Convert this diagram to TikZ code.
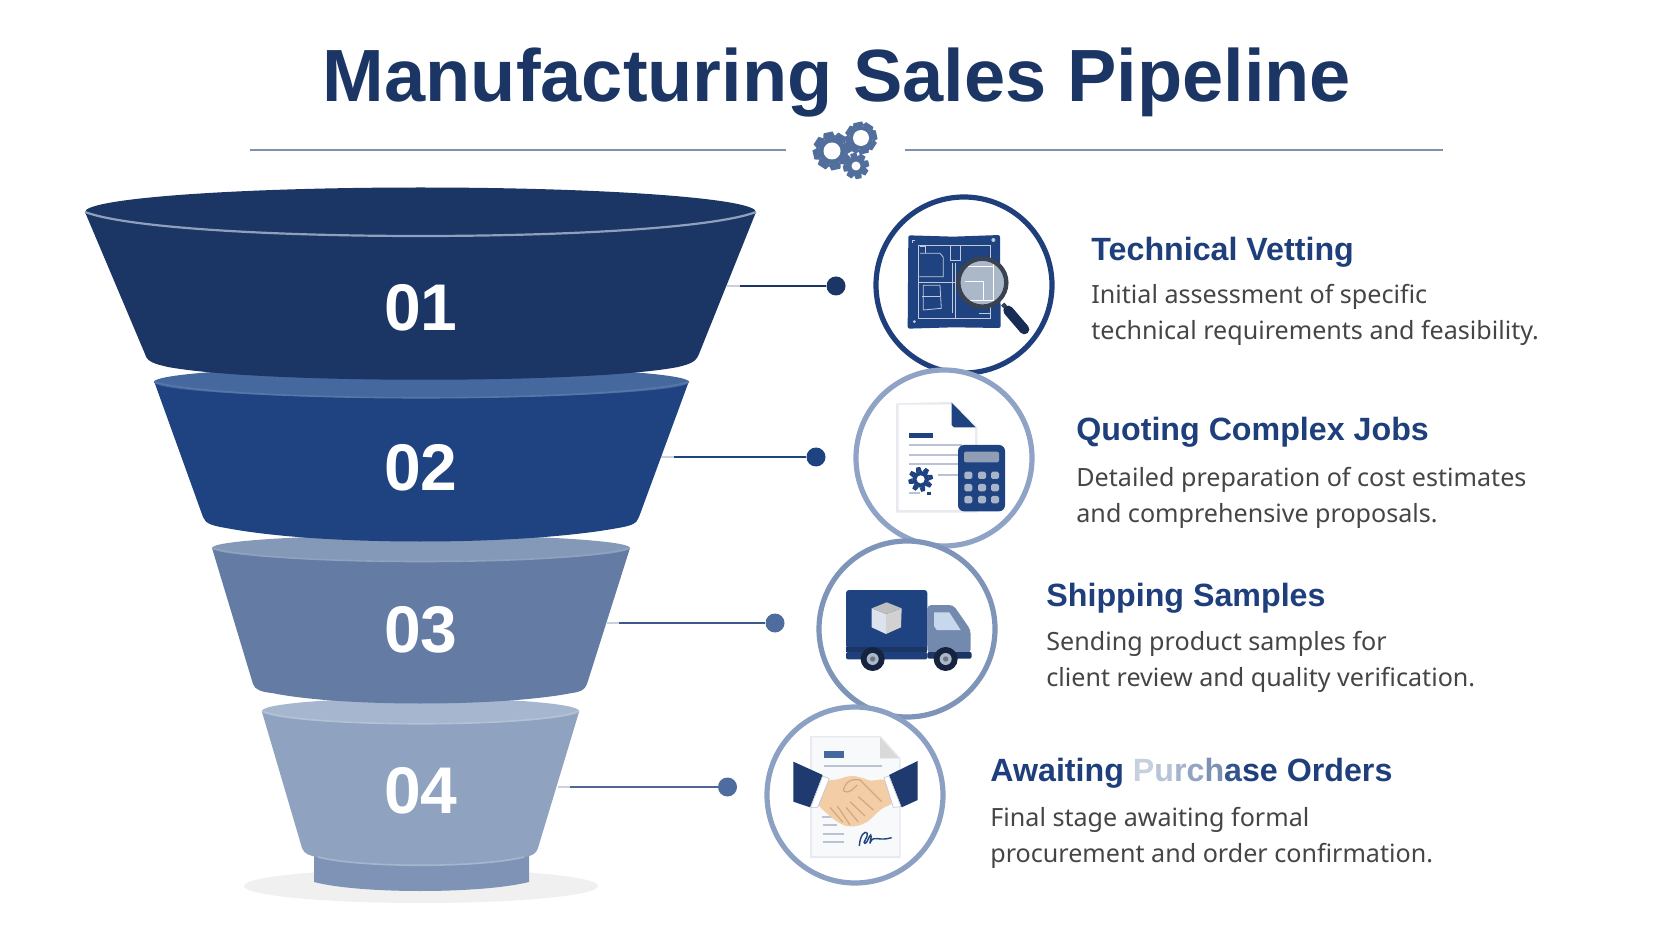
\documentclass[tikz,border=0pt]{standalone}
\usepackage{fontspec}
\setmainfont{Noto Sans}
\newfontfamily\strongface{Liberation Sans}
\definecolor{navy}{HTML}{1B3564}
\definecolor{royal}{HTML}{1F4280}
\definecolor{headc}{HTML}{1F3F7C}
\definecolor{bodyc}{HTML}{454545}
\definecolor{ruleline}{HTML}{7E90AE}
\definecolor{gearc}{HTML}{526E9C}
\definecolor{skin}{HTML}{F3CDA6}
\definecolor{skind}{HTML}{D3A77E}
\definecolor{ftwo}{HTML}{45689F}
\definecolor{fthree}{HTML}{647BA3}
\definecolor{fthreet}{HTML}{8498B8}
\definecolor{ffour}{HTML}{8FA3C0}
\definecolor{ffourt}{HTML}{A6B6CF}
\definecolor{fbase}{HTML}{7E93B5}
\definecolor{rimc}{HTML}{8FA0BC}
\definecolor{stubc}{HTML}{CBD1DC}
\definecolor{ringb}{HTML}{8FA3C6}
\definecolor{ringc}{HTML}{7E94B8}
\definecolor{ringd}{HTML}{8BA0C2}
\definecolor{leadc}{HTML}{3D5A8C}
\definecolor{leadd}{HTML}{4F6595}
\definecolor{dotc}{HTML}{4F6C9E}
\definecolor{paperc}{HTML}{F8F9FB}
\definecolor{paperl}{HTML}{E8EAEF}
\definecolor{greyl}{HTML}{B9C3D3}
\definecolor{keyc}{HTML}{A8B5C9}
\definecolor{screenc}{HTML}{8F9DB5}
\definecolor{cabc}{HTML}{7389AE}
\definecolor{winc}{HTML}{C8D8EC}
\definecolor{tyre}{HTML}{16233F}
\definecolor{sleeve}{HTML}{1F3A6E}
\definecolor{lensring}{HTML}{3A4250}
\tikzset{
 px/.style={x=0.5pt,y=-0.5pt},
 titletext/.style={font=\fontsize{37}{42}\selectfont\strongface\bfseries,text=navy,inner sep=0pt,anchor=base},
 numtext/.style={font=\fontsize{33}{36}\selectfont\strongface\bfseries,text=white,inner sep=0pt},
 headtext/.style={font=\fontsize{16.1}{18}\selectfont\strongface\bfseries,text=headc,anchor=base west,inner sep=0pt},
 desctext/.style={font=\fontsize{12.55}{18.3}\selectfont,text=bodyc,anchor=west,inner sep=0pt,align=left},
 ringa/.style={draw=#1,line width=2.6pt,fill=white,circle,minimum size=88pt,inner sep=0pt},
 dotn/.style={fill=#1,circle,minimum size=9.5pt,inner sep=0pt},
 stub/.style={draw=stubc,line width=1.3pt},
 lead/.style={draw=#1,line width=1.3pt},
 rimline/.style={draw=#1,line width=0.8pt},
 bluep/.style={draw=white!72!royal,line width=0.4pt},
 greyline/.style={draw=greyl,line width=1.1pt},
}
\newcommand{\cog}[7]{% x y R r hole colour holecolour
 \fill[#6] (#1,#2) circle[radius=#4];
 \foreach \a in {0,45,...,315}{
  \fill[#6,shift={(#1,#2)},rotate=\a+12] (#4-1,-#5*0.62-1) -- (#3,-#5*0.42-1) -- (#3,#5*0.42+1) -- (#4-1,#5*0.62+1) -- cycle;
 }
 \fill[#7] (#1,#2) circle[radius=#5];
}
\begin{document}
\begin{tikzpicture}[px]
\useasboundingbox (0,0) rectangle (1672,941);
\fill[white] (0,0) rectangle (1672,941);

% title
\node[titletext] (title) at (837,102) {Manufacturing Sales Pipeline};
\coordinate (rl1) at (250,150); \coordinate (rl2) at (786,150);
\coordinate (rr1) at (905,150); \coordinate (rr2) at (1443,150);
\draw[ruleline,line width=1pt] (rl1) -- (rl2);
\draw[ruleline,line width=1pt] (rr1) -- (rr2);
\cog{832}{151}{19}{14}{8.5}{gearc}{white}
\cog{861}{138}{16}{12}{8}{gearc}{white}
\cog{856}{166}{13}{9.5}{4.5}{gearc}{white}

% connectors
\coordinate (s1) at (727,286); \coordinate (m1) at (740,286);
\node[dotn=navy] (d1) at (836,286) {};
\draw[stub] (s1) -- (m1); \draw[lead=navy] (m1) -- (d1);
\coordinate (s2) at (661,457); \coordinate (m2) at (674,457);
\node[dotn=royal] (d2) at (816,457) {};
\draw[stub] (s2) -- (m2); \draw[lead=royal] (m2) -- (d2);
\coordinate (s3) at (607,623); \coordinate (m3) at (619,623);
\node[dotn=dotc] (d3) at (775,623) {};
\draw[stub] (s3) -- (m3); \draw[lead=leadc] (m3) -- (d3);
\coordinate (s4) at (558,787); \coordinate (m4) at (570,787);
\node[dotn=dotc] (d4) at (727.5,787) {};
\draw[stub] (s4) -- (m4); \draw[lead=leadd] (m4) -- (d4);

% funnel (bottom up)
\fill[black!6] (421,886) circle[x radius=177,y radius=17];
\fill[fbase] (314,850) -- (314,882) .. controls (360,894) and (480,894) .. (529,882) -- (529,850) -- cycle;
\fill[ffour] (262,712) -- (302,848) .. controls (304,854) and (310,856) .. (318,857) .. controls (360,868) and (480,868) .. (524,857) .. controls (532,856) and (536,854) .. (538,848) -- (579,712) -- cycle;
\draw[rimline=ffourt] (318,857) .. controls (360,868) and (480,868) .. (524,857);
\fill[ffourt] (420.5,711) circle[x radius=158.5,y radius=13];
\draw[rimline=ffourt!85!white] (262,711) .. controls (300,728) and (541,728) .. (579,711);

\fill[fthree] (212,548) -- (253,684) .. controls (255,690) and (262,692) .. (272,693) .. controls (340,707) and (500,707) .. (572,693) .. controls (580,692) and (585,690) .. (587,684) -- (630,548) -- cycle;
\fill[fthreet] (421,548) circle[x radius=209,y radius=13];
\draw[rimline=fthreet!90!white] (212,548) .. controls (270,566) and (572,566) .. (630,548);

\fill[royal] (154,381) -- (203,517) .. controls (205,524) and (214,526) .. (226,528) .. controls (320,546) and (520,546) .. (618,528) .. controls (630,526) and (637,524) .. (639,517) -- (689,381) -- cycle;
\fill[ftwo] (421.5,382) circle[x radius=267.5,y radius=16];
\draw[rimline=ftwo!90!white] (154,382) .. controls (230,403) and (613,403) .. (689,382);

\fill[navy] (85,212) -- (145,354) .. controls (147,362) and (155,364) .. (168,367) .. controls (260,384) and (590,384) .. (678,367) .. controls (690,364) and (696,362) .. (699,354) -- (756,212) -- cycle;
\fill[navy] (420.5,212) circle[x radius=335.5,y radius=24.5];
\draw[rimc,line width=1.1pt] (85,212) .. controls (170,244) and (671,244) .. (756,212);

\node[numtext] (n1) at (421,308) {01};
\node[numtext] (n2) at (421,468) {02};
\node[numtext] (n3) at (421,630) {03};
\node[numtext] (n4) at (421,791) {04};

% rings
\node[ringa=headc] (c1) at (964,285) {};
\node[ringa=ringb] (c2) at (944,458) {};
\node[ringa=ringc] (c3) at (907,629) {};
\node[ringa=ringd] (c4) at (855,795) {};

% icon 1: blueprint
\begin{scope}[shift={(780,100)},scale=1/3]
 \fill[royal,rounded corners=1pt] (385,406) -- (520,410) -- (660,405) -- (662,684) -- (520,682) -- (383,686) -- cycle;
 \draw[bluep] (415,437) -- (632,437) -- (632,655) -- (415,655) -- cycle;
 \draw[bluep] (415,548) -- (530,548);
 \draw[bluep] (510,437) -- (510,482) -- (540,482) -- (540,437);
 \draw[bluep] (525,490) -- (525,655);
 \draw[bluep] (517,490) -- (517,640);
 \draw[bluep] (420,460) -- (480,460) -- (490,472) -- (490,530) -- (418,530);
 \draw[bluep] (430,556) -- (480,556) -- (484,625) -- (430,630) -- cycle;
 \draw[bluep] (425,590) -- (480,590);
 \draw[bluep] (597,640) -- (630,640) -- (630,655);
 \draw[bluep] (420,440) -- (436,440) -- (436,460);
 \draw[bluep] (397,420) -- (405,420) (397,420) -- (397,430);
 \fill[white!70!royal] (640,420) circle[radius=6];
 \fill[white!70!royal] (403,665) circle[radius=5];
 \draw[line width=2.2pt,color=lensring] (668,612) -- (684,630);
 \draw[line width=5pt,color=navy!85!black,line cap=round] (685,632) -- (733,688);
 \fill[black!15!winc] (607,548) circle[radius=72];
 \draw[white,line width=0.4pt] (557,500) -- (640,500) (640,480) -- (640,610) (555,545) -- (610,545) -- (610,600) (570,600) -- (640,600);
 \draw[lensring,line width=2.2pt] (607,548) circle[radius=72];
\end{scope}

% icon 2: document and calculator
\begin{scope}[shift={(830,370)},scale=1/3]
 \fill[paperl] (198,100) -- (365,96) -- (442,172) -- (442,428) -- (198,428) -- cycle;
 \fill[white] (206,104) -- (365,104) -- (435,172) -- (435,420) -- (206,420) -- cycle;
 \fill[royal] (365,98) -- (437,172) -- (372,172) -- (365,165) -- cycle;
 \fill[royal] (237,190) rectangle (310,203);
 \draw[greyline] (237,225) -- (395,225);
 \draw[greyline] (237,255) -- (385,255);
 \draw[greyline] (237,283) -- (385,283);
 \draw[greyline] (325,315) -- (385,315);
 \draw[greyline] (237,340) -- (250,340);
 \cog{272}{328}{37}{25}{12}{royal}{white}
 \draw[greyline] (237,370) -- (270,370);
 \fill[royal] (290,366) rectangle (303,374);
 \fill[royal,rounded corners=3pt] (384,225) rectangle (525,424);
 \fill[screenc,rounded corners=1pt] (402,245) rectangle (507,277);
 \foreach \kx in {415,456,495} \foreach \ky in {316,353,389}
  \fill[keyc,rounded corners=0.8pt] (\kx-12,\ky-11) rectangle (\kx+12,\ky+11);
\end{scope}

% icon 3: truck
\begin{scope}[shift={(800,540)},scale=1/3]
 \fill[cabc,rounded corners=2pt] (382,195) -- (460,195) -- (512,270) -- (512,340) -- (382,340) -- cycle;
 \fill[winc] (402,217) -- (448,217) -- (482,270) -- (410,270) -- (402,258) -- cycle;
 \fill[royal,rounded corners=1.5pt] (138,150) rectangle (382,325);
 \fill[navy] (138,320) rectangle (382,336);
 \fill[headc,rounded corners=1pt] (138,336) rectangle (382,358);
 \fill[navy,rounded corners=1pt] (382,336) rectangle (515,356);
 \fill[white!85!royal] (215,205) -- (258,222) -- (258,282) -- (215,262) -- cycle;
 \fill[black!18!white] (258,222) -- (305,205) -- (303,262) -- (258,282) -- cycle;
 \fill[black!25!white] (260,187) -- (305,205) -- (258,222) -- (215,205) -- cycle;
 \foreach \wx in {218,437}{
  \fill[tyre] (\wx,357) circle[radius=36];
  \fill[black!15!winc] (\wx,357) circle[radius=18];
  \fill[black!45!winc] (\wx,357) circle[radius=8];
 }
\end{scope}

% icon 4: handshake and contract
\begin{scope}[shift={(750,700)},scale=1/3]
 \fill[paperl] (180,108) -- (392,108) -- (452,175) -- (452,474) -- (180,474) -- cycle;
 \fill[paperc] (186,112) -- (390,112) -- (447,175) -- (447,468) -- (186,468) -- cycle;
 \fill[black!15!white] (390,112) -- (447,175) -- (390,175) -- cycle;
 \fill[ftwo] (222,152) rectangle (283,173);
 \draw[greyline] (222,197) -- (395,197);
 \draw[greyline] (215,352) -- (290,352);
 \draw[greyline] (218,375) -- (260,375);
 \draw[greyline] (218,402) -- (283,402);
 \draw[greyline] (218,427) -- (283,427);
 \draw[royal,line width=0.7pt] (328,438) .. controls (330,405) and (345,390) .. (352,400) .. controls (355,412) and (335,430) .. (345,430) .. controls (352,430) and (358,405) .. (362,405) .. controls (368,405) and (355,440) .. (362,425) .. controls (372,405) and (385,425) .. (425,413);
 \fill[sleeve] (130,185) -- (218,225) -- (180,322) -- (130,305) -- cycle;
 \fill[sleeve] (503,183) -- (503,300) -- (455,322) -- (417,225) -- cycle;
 \fill[skin,rounded corners=3pt] (228,240) -- (262,240) -- (298,226) -- (338,232) -- (352,244) -- (410,236) -- (432,312) -- (398,322) -- (372,348) -- (345,372) -- (300,382) -- (270,372) -- (235,345) -- (198,310) -- cycle;
 \fill[white,draw=greyl,line width=0.3pt] (218,228) -- (238,236) -- (203,322) -- (182,322) -- cycle;
 \fill[white,draw=greyl,line width=0.3pt] (417,228) -- (402,233) -- (430,322) -- (453,320) -- cycle;
 \draw[skind,line width=0.6pt] (280,272) .. controls (285,245) and (305,235) .. (330,240) -- (395,305);
 \draw[skind,line width=0.6pt] (280,272) .. controls (300,285) and (312,262) .. (322,255);
 \draw[skind,line width=0.6pt] (240,322) -- (278,366) (262,318) -- (300,375) (288,322) -- (325,366);
 \draw[skind,line width=0.6pt] (345,348) -- (300,305) (370,330) -- (325,290);
\end{scope}

% texts
\node[headtext] (h1) at (1091,261) {Technical Vetting};
\node[desctext] (t1) at (1091,315) {Initial assessment of specific\\technical requirements and feasibility.};
\node[headtext] (h2) at (1076,441) {Quoting Complex Jobs};
\node[desctext] (t2) at (1076,498) {Detailed preparation of cost estimates\\and comprehensive proposals.};
\node[headtext] (h3) at (1046,606) {Shipping Samples};
\node[desctext] (t3) at (1046,662) {Sending product samples for\\client review and quality verification.};
\node[headtext] (h4) at (990,781) {Awaiting {\color{white!75!royal}P}{\color{white!68!royal}u}{\color{white!60!royal}r}{\color{white!52!royal}c}{\color{white!42!royal}h}{\color{white!10!royal}a}se Orders};
\node[desctext] (t4) at (990,838) {Final stage awaiting formal\\procurement and order confirmation.};
\end{tikzpicture}
\end{document}
